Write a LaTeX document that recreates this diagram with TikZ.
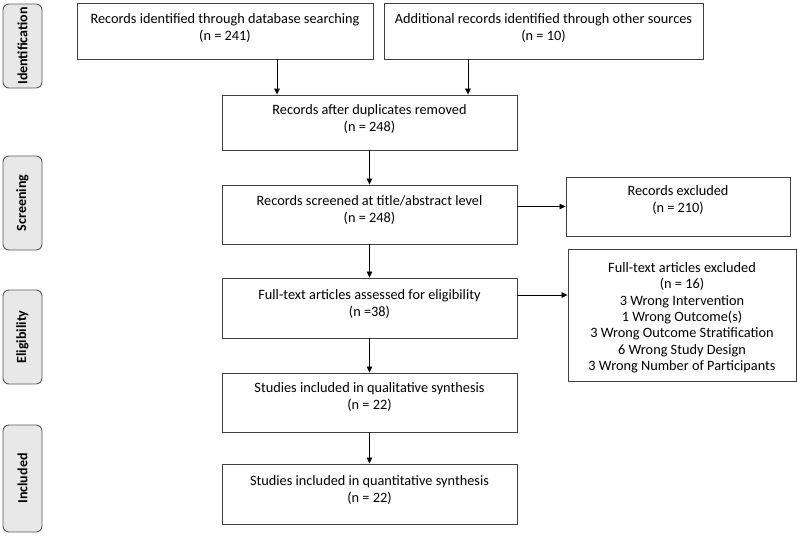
\documentclass[tikz,border=0pt]{standalone}
\usepackage{fontspec}
\setmainfont{Carlito}
\usetikzlibrary{arrows.meta}
\begin{document}
\begin{tikzpicture}[x=1pt,y=-1pt,
  box/.style={draw=black!75, line width=0.9pt, fill=white, inner sep=0pt},
  txt/.style={anchor=north, align=center, inner sep=0pt, font=\fontsize{14.3}{17}\selectfont},
  side/.style={draw=black!65, line width=0.9pt, fill=black!9, rounded corners=6pt, inner sep=0pt},
  sidetxt/.style={rotate=90, inner sep=0pt, font=\fontsize{14}{16}\selectfont\bfseries},
  arr/.style={-{Triangle[length=6pt,width=5.5pt]}, line width=0.8pt}]
\useasboundingbox (0,0) rectangle (797,536);
% side labels
\node[side, minimum width=39pt, minimum height=84pt] (sId) at (22.5,46) {};
\node[sidetxt] (sIdT) at (sId) {Identification};
\node[side, minimum width=39pt, minimum height=94pt] (sSc) at (22.5,203) {};
\node[sidetxt] (sScT) at (sSc) {Screening};
\node[side, minimum width=39pt, minimum height=94pt] (sEl) at (22.5,337) {};
\node[sidetxt] (sElT) at (sEl) {Eligibility};
\node[side, minimum width=39pt, minimum height=107pt] (sIn) at (22.5,478.5) {};
\node[sidetxt] (sInT) at (sIn) {Included};
% boxes
\node[box, minimum width=296pt, minimum height=56pt] (A) at (225,31) {};
\node[txt] (At) at ([yshift=-10.5pt]A.north) {Records identified through database searching\\(n = 241)};
\node[box, minimum width=319pt, minimum height=56pt] (B) at (543.5,31) {};
\node[txt] (Bt) at ([yshift=-10.5pt]B.north) {Additional records identified through other sources\\(n = 10)};
\node[box, minimum width=295pt, minimum height=55pt] (C) at (369.5,122.5) {};
\node[txt] (Ct) at ([yshift=-10pt]C.north) {Records after duplicates removed\\(n = 248)};
\node[box, minimum width=295pt, minimum height=59pt] (D) at (369.5,214.5) {};
\node[txt] (Dt) at ([yshift=-11pt]D.north) {Records screened at title/abstract level\\(n = 248)};
\node[box, minimum width=224pt, minimum height=59pt] (E) at (678,206.5) {};
\node[txt] (Et) at ([yshift=-9pt]E.north) {Records excluded\\(n = 210)};
\node[box, minimum width=295pt, minimum height=60pt] (F) at (369.5,308) {};
\node[txt] (Ft) at ([yshift=-12pt]F.north) {Full-text articles assessed for eligibility\\(n =38)};
\node[box, minimum width=228pt, minimum height=132pt] (G) at (682,315) {};
\node[txt, font=\fontsize{14.3}{16.3}\selectfont] (Gt) at ([yshift=-14pt]G.north) {Full-text articles excluded\\(n = 16)\\3 Wrong Intervention\\1 Wrong Outcome(s)\\3 Wrong Outcome Stratification\\6 Wrong Study Design\\3 Wrong Number of Participants};
\node[box, minimum width=295pt, minimum height=59pt] (H) at (369.5,402.5) {};
\node[txt] (Ht) at ([yshift=-10pt]H.north) {Studies included in qualitative synthesis\\(n = 22)};
\node[box, minimum width=295pt, minimum height=60pt] (I) at (369.5,494) {};
\node[txt] (It) at ([yshift=-12pt]I.north) {Studies included in quantitative synthesis\\(n = 22)};
% connectors
\coordinate (a1) at (277,0);
\coordinate (b1) at (468,0);
\coordinate (g1) at (0,295);
\draw[arr] (A.south -| a1) -- (C.north -| a1);
\draw[arr] (B.south -| b1) -- (C.north -| b1);
\draw[arr] (C.south) -- (D.north);
\draw[arr] (D.east |- E.west) -- (E.west);
\draw[arr] (D.south) -- (F.north);
\draw[arr] (F.east |- g1) -- (G.west |- g1);
\draw[arr] (F.south) -- (H.north);
\draw[arr] (H.south) -- (I.north);
\end{tikzpicture}
\end{document}
